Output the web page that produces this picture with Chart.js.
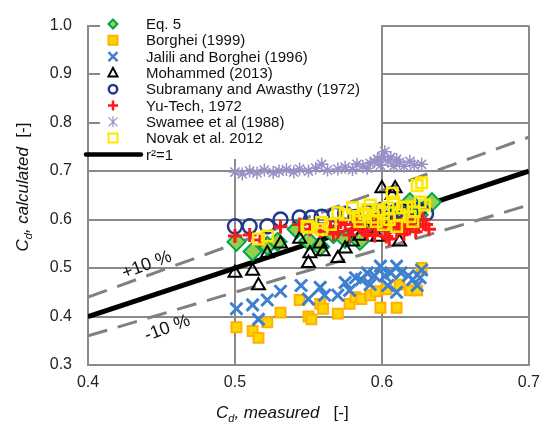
<!DOCTYPE html>
<html>
<head>
<meta charset="utf-8">
<script src="https://cdn.jsdelivr.net/npm/chart.js"></script>
<style>
  body { margin: 0; background: #fff; }
  #wrap { width: 548px; height: 429px; }
</style>
</head>
<body>
<div id="wrap"><canvas id="cdChart" width="548" height="429"></canvas></div>
<script>
// values
const xTicks = [0.4, 0.5, 0.6, 0.7];
const yTicks = [0.3, 0.4, 0.5, 0.6, 0.7, 0.8, 0.9, 1.0];

const eq5X = [0.501, 0.512, 0.522, 0.529, 0.542, 0.55, 0.558, 0.567, 0.575, 0.585, 0.59, 0.598, 0.605, 0.612, 0.619, 0.625, 0.634];
const eq5Y = [0.554, 0.534, 0.546, 0.554, 0.58, 0.556, 0.544, 0.57, 0.56, 0.556, 0.585, 0.6, 0.59, 0.62, 0.636, 0.61, 0.636];

const borgheiX = [0.501, 0.512, 0.516, 0.522, 0.531, 0.544, 0.55, 0.552, 0.558, 0.56, 0.57, 0.578, 0.582, 0.586, 0.592, 0.596, 0.599, 0.603, 0.61, 0.612, 0.619, 0.624, 0.627];
const borgheiY = [0.378, 0.37, 0.356, 0.388, 0.408, 0.434, 0.40, 0.394, 0.426, 0.416, 0.406, 0.426, 0.44, 0.436, 0.444, 0.452, 0.418, 0.456, 0.418, 0.466, 0.454, 0.454, 0.5];

const jaliliX = [0.501, 0.512, 0.516, 0.522, 0.531, 0.545, 0.55, 0.558, 0.561, 0.57, 0.575, 0.578, 0.582, 0.586, 0.59, 0.592, 0.595, 0.599, 0.602, 0.604, 0.606, 0.61, 0.61, 0.613, 0.618, 0.621, 0.624, 0.626, 0.627];
const jaliliY = [0.416, 0.424, 0.394, 0.434, 0.452, 0.464, 0.436, 0.46, 0.444, 0.444, 0.47, 0.454, 0.48, 0.476, 0.49, 0.466, 0.484, 0.504, 0.484, 0.464, 0.49, 0.504, 0.45, 0.49, 0.484, 0.476, 0.464, 0.48, 0.496];

const mohammedX = [0.5, 0.512, 0.516, 0.522, 0.531, 0.544, 0.55, 0.551, 0.558, 0.56, 0.57, 0.575, 0.58, 0.585, 0.59, 0.597, 0.6, 0.603, 0.607, 0.609, 0.612, 0.615, 0.62];
const mohammedY = [0.49, 0.494, 0.464, 0.53, 0.55, 0.56, 0.51, 0.53, 0.55, 0.534, 0.52, 0.54, 0.554, 0.566, 0.58, 0.564, 0.664, 0.6, 0.65, 0.664, 0.554, 0.62, 0.6];

const subramanyX = [0.5, 0.51, 0.522, 0.531, 0.544, 0.552, 0.559, 0.568, 0.575, 0.582, 0.59, 0.595, 0.6, 0.605, 0.61, 0.615, 0.62, 0.625, 0.63];
const subramanyY = [0.586, 0.586, 0.586, 0.6, 0.604, 0.604, 0.606, 0.61, 0.612, 0.605, 0.615, 0.61, 0.62, 0.612, 0.618, 0.61, 0.615, 0.62, 0.612];

const yuTechX = [0.5, 0.51, 0.517, 0.531, 0.544, 0.551, 0.558, 0.565, 0.57, 0.575, 0.58, 0.585, 0.59, 0.593, 0.597, 0.6, 0.603, 0.606, 0.61, 0.613, 0.617, 0.62, 0.625, 0.63,
                 0.567, 0.572, 0.578, 0.583, 0.588, 0.595, 0.598, 0.602, 0.605, 0.608, 0.612, 0.615, 0.618, 0.623, 0.628, 0.632];
const yuTechY = [0.566, 0.568, 0.558, 0.585, 0.59, 0.58, 0.576, 0.585, 0.575, 0.59, 0.58, 0.585, 0.57, 0.595, 0.58, 0.6, 0.565, 0.585, 0.575, 0.59, 0.58, 0.595, 0.585, 0.59,
                 0.57, 0.595, 0.568, 0.6, 0.577, 0.567, 0.59, 0.578, 0.56, 0.595, 0.585, 0.57, 0.59, 0.575, 0.6, 0.58];

const swameeX = [0.5, 0.505, 0.51, 0.515, 0.52, 0.526, 0.53, 0.535, 0.54, 0.544, 0.55, 0.555, 0.559, 0.563, 0.57, 0.575, 0.58, 0.583, 0.587, 0.59, 0.592, 0.595, 0.597, 0.599, 0.6, 0.602, 0.604, 0.606, 0.608, 0.61, 0.612, 0.615, 0.619, 0.622, 0.627];
const swameeY = [0.698, 0.694, 0.7, 0.696, 0.702, 0.697, 0.7, 0.703, 0.698, 0.704, 0.7, 0.706, 0.714, 0.702, 0.704, 0.708, 0.703, 0.714, 0.71, 0.706, 0.716, 0.72, 0.724, 0.712, 0.73, 0.74, 0.72, 0.728, 0.71, 0.724, 0.718, 0.71, 0.72, 0.712, 0.714];

const novakX = [0.516, 0.522, 0.549, 0.55, 0.559, 0.559, 0.57, 0.58, 0.584, 0.59, 0.592, 0.596, 0.601, 0.601, 0.604, 0.607, 0.608, 0.61, 0.614, 0.619, 0.622, 0.624, 0.626, 0.627,
                0.565, 0.575, 0.585, 0.588, 0.594, 0.598, 0.605, 0.612, 0.617, 0.621, 0.629];
const novakY = [0.56, 0.566, 0.586, 0.584, 0.58, 0.594, 0.614, 0.624, 0.606, 0.62, 0.63, 0.596, 0.614, 0.59, 0.624, 0.654, 0.636, 0.586, 0.624, 0.606, 0.616, 0.67, 0.636, 0.676,
                0.59, 0.61, 0.596, 0.612, 0.605, 0.62, 0.6, 0.61, 0.626, 0.596, 0.63];

// reference lines: 1:1 and +/-10 %
const lineX = [0.4, 0.7];
const oneToOneY = [0.4, 0.7];
const plus10Y = [0.44, 0.77];
const minus10Y = [0.36, 0.63];

const zip = (xs, ys) => xs.map((x, i) => ({ x: x, y: ys[i] }));

const legendItems = [
  { text: 'Eq. 5', shape: 'diamond', fill: '#92D050', stroke: '#00A550' },
  { text: 'Borghei (1999)', shape: 'square', fill: '#FFD500', stroke: '#FFB000' },
  { text: 'Jalili and Borghei (1996)', shape: 'x', stroke: '#3F7FD0' },
  { text: 'Mohammed (2013)', shape: 'triangle', stroke: '#000' },
  { text: 'Subramany and Awasthy (1972)', shape: 'circle', stroke: '#1F3A8A' },
  { text: 'Yu-Tech, 1972', shape: 'plus', stroke: '#FF1A1A' },
  { text: 'Swamee et al (1988)', shape: 'star', stroke: '#9A8EC6' },
  { text: 'Novak et al. 2012', shape: 'open', stroke: '#FFE800' },
  { text: 'r\u00B2=1', shape: 'line', stroke: '#000' }
];

function marker(ctx, it, x, y) {
  ctx.beginPath();
  ctx.strokeStyle = it.stroke;
  ctx.fillStyle = it.fill || 'transparent';
  if (it.shape == 'diamond') {
    ctx.lineWidth = 2;
    ctx.moveTo(x, y - 4.5); ctx.lineTo(x + 4.5, y); ctx.lineTo(x, y + 4.5); ctx.lineTo(x - 4.5, y); ctx.closePath();
    ctx.fill(); ctx.stroke();
  } else if (it.shape == 'square') {
    ctx.lineWidth = 2;
    ctx.rect(x - 4.5, y - 4.5, 9, 9); ctx.fill(); ctx.stroke();
  } else if (it.shape == 'open') {
    ctx.lineWidth = 2;
    ctx.rect(x - 4.5, y - 4.5, 9, 9); ctx.stroke();
  } else if (it.shape == 'x') {
    ctx.lineWidth = 2.5;
    ctx.moveTo(x - 4.5, y - 4.5); ctx.lineTo(x + 4.5, y + 4.5);
    ctx.moveTo(x + 4.5, y - 4.5); ctx.lineTo(x - 4.5, y + 4.5); ctx.stroke();
  } else if (it.shape == 'triangle') {
    ctx.lineWidth = 2;
    ctx.moveTo(x, y - 5); ctx.lineTo(x + 4.5, y + 3.5); ctx.lineTo(x - 4.5, y + 3.5); ctx.closePath(); ctx.stroke();
  } else if (it.shape == 'circle') {
    ctx.lineWidth = 2.5;
    ctx.arc(x, y, 4.2, 0, Math.PI * 2); ctx.stroke();
  } else if (it.shape == 'plus') {
    ctx.lineWidth = 2.5;
    ctx.moveTo(x - 5, y); ctx.lineTo(x + 5, y); ctx.moveTo(x, y - 5); ctx.lineTo(x, y + 5); ctx.stroke();
  } else if (it.shape == 'star') {
    ctx.lineWidth = 1.2;
    ctx.moveTo(x - 4.5, y - 4.5); ctx.lineTo(x + 4.5, y + 4.5);
    ctx.moveTo(x + 4.5, y - 4.5); ctx.lineTo(x - 4.5, y + 4.5);
    ctx.moveTo(x, y - 5.5); ctx.lineTo(x, y + 5.5); ctx.stroke();
  } else if (it.shape == 'line') {
    ctx.lineWidth = 4.5;
    ctx.lineCap = 'round';
    ctx.moveTo(86, y); ctx.lineTo(141, y); ctx.stroke();
    ctx.lineCap = 'butt';
  }
}

// draws a run of text pieces (font + vertical shift) starting at x
function richText(ctx, parts, x, y) {
  parts.forEach(p => {
    ctx.font = p.font;
    ctx.fillText(p.t, x, y + (p.dy || 0));
    x += ctx.measureText(p.t).width;
  });
}
function richWidth(ctx, parts) {
  let w = 0;
  parts.forEach(p => { ctx.font = p.font; w += ctx.measureText(p.t).width; });
  return w;
}

const FONT = '"Liberation Sans", Arial, sans-serif';

const overlay = {
  id: 'overlay',
  beforeDatasetsDraw(chart) {
    const ctx = chart.ctx;
    ctx.save();
    ctx.fillStyle = '#fff';
    ctx.fillRect(100, 16, 281, 143);
    ctx.textBaseline = 'middle';
    legendItems.forEach((it, i) => {
      const y = 24 + i * 16.3;
      marker(ctx, it, 113, y);
      ctx.fillStyle = '#111';
      ctx.font = '15px ' + FONT;
      ctx.fillText(it.text, 146, y + 1);
    });
    ctx.restore();
  },
  afterDraw(chart) {
    const ctx = chart.ctx;
    const xs = chart.scales.x, ys = chart.scales.y;
    ctx.save();
    ctx.fillStyle = '#111';
    ctx.textAlign = 'center';
    ctx.textBaseline = 'middle';
    ctx.font = '18px ' + FONT;
    [['+10 %', 0.44, 0.506], ['-10 %', 0.454, 0.376]].forEach(l => {
      ctx.save();
      ctx.translate(xs.getPixelForValue(l[1]), ys.getPixelForValue(l[2]));
      ctx.rotate(-20.5 * Math.PI / 180);
      ctx.fillText(l[0], 0, 0);
      ctx.restore();
    });

    ctx.textAlign = 'left';
    ctx.textBaseline = 'alphabetic';
    const it = 'italic 17px ' + FONT, sub = 'italic 11px ' + FONT, up = '17px ' + FONT;
    const xTitle = [{ t: 'C', font: it }, { t: 'd', font: sub, dy: 4 }, { t: ', measured', font: it }, { t: '   [-]', font: up }];
    richText(ctx, xTitle, 216, 418);
    const yTitle = [{ t: 'C', font: it }, { t: 'd', font: sub, dy: 4 }, { t: ', calculated', font: it }, { t: '  [-]', font: up }];
    ctx.translate(28, 187);
    ctx.rotate(-Math.PI / 2);
    richText(ctx, yTitle, -richWidth(ctx, yTitle) / 2, 0);
    ctx.restore();
  }
};

const gridColor = '#8a8a8a';
const fmt = v => Number(v).toFixed(1);

new Chart(document.getElementById('cdChart').getContext('2d'), {
  type: 'scatter',
  data: {
    datasets: [
      { label: 'r\u00B2=1', data: zip(lineX, oneToOneY), showLine: true, borderColor: '#000', borderWidth: 5, pointRadius: 0, order: 10 },
      { label: '+10 %', data: zip(lineX, plus10Y), showLine: true, borderColor: '#808080', borderWidth: 3, borderDash: [20, 11], pointRadius: 0, order: 11 },
      { label: '-10 %', data: zip(lineX, minus10Y), showLine: true, borderColor: '#808080', borderWidth: 3, borderDash: [20, 11], pointRadius: 0, order: 12 },
      { label: 'Eq. 5', data: zip(eq5X, eq5Y), pointStyle: 'rectRot', pointRadius: 9, backgroundColor: '#92D050', borderColor: '#00A550', borderWidth: 2, order: 8 },
      { label: 'Borghei (1999)', data: zip(borgheiX, borgheiY), pointStyle: 'rect', pointRadius: 7, backgroundColor: '#FFD500', borderColor: '#FFB000', borderWidth: 2, order: 7 },
      { label: 'Jalili and Borghei (1996)', data: zip(jaliliX, jaliliY), pointStyle: 'crossRot', pointRadius: 8.5, borderColor: '#3F7FD0', borderWidth: 3, order: 6 },
      { label: 'Mohammed (2013)', data: zip(mohammedX, mohammedY), pointStyle: 'triangle', pointRadius: 7.5, backgroundColor: 'transparent', borderColor: '#000', borderWidth: 2, order: 5 },
      { label: 'Subramany and Awasthy (1972)', data: zip(subramanyX, subramanyY), pointStyle: 'circle', pointRadius: 7, backgroundColor: 'transparent', borderColor: '#1F3A8A', borderWidth: 2.5, order: 4 },
      { label: 'Yu-Tech, 1972', data: zip(yuTechX, yuTechY), pointStyle: 'cross', pointRadius: 7, borderColor: '#FF1A1A', borderWidth: 3, order: 3 },
      { label: 'Swamee et al (1988)', data: zip(swameeX, swameeY), pointStyle: 'star', pointRadius: 6.5, borderColor: '#9A8EC6', borderWidth: 1.5, order: 2 },
      { label: 'Novak et al. 2012', data: zip(novakX, novakY), pointStyle: 'rect', pointRadius: 7.5, backgroundColor: 'transparent', borderColor: '#FFE800', borderWidth: 2.5, order: 1 }
    ]
  },
  options: {
    responsive: false,
    animation: false,
    events: [],
    layout: { padding: { left: 0, right: 19, top: 15, bottom: 0 } },
    scales: {
      x: {
        min: xTicks[0],
        max: xTicks[xTicks.length - 1],
        afterBuildTicks: s => { s.ticks = xTicks.map(v => ({ value: v })); },
        afterFit: s => { s.height = 64; },
        grid: { color: gridColor, lineWidth: 2, drawTicks: false },
        border: { color: gridColor, width: 2 },
        ticks: { padding: 8, color: '#222', font: { family: FONT, size: 16 }, callback: fmt }
      },
      y: {
        min: yTicks[0],
        max: yTicks[yTicks.length - 1],
        afterBuildTicks: s => { s.ticks = yTicks.map(v => ({ value: v })); },
        afterFit: s => { s.width = 88; },
        grid: { color: gridColor, lineWidth: 2, drawTicks: false },
        border: { color: gridColor, width: 2 },
        ticks: { padding: 16, color: '#222', font: { family: FONT, size: 16 }, callback: fmt }
      }
    },
    plugins: {
      legend: { display: false },
      tooltip: { enabled: false }
    }
  },
  plugins: [overlay]
});
</script>
</body>
</html>
